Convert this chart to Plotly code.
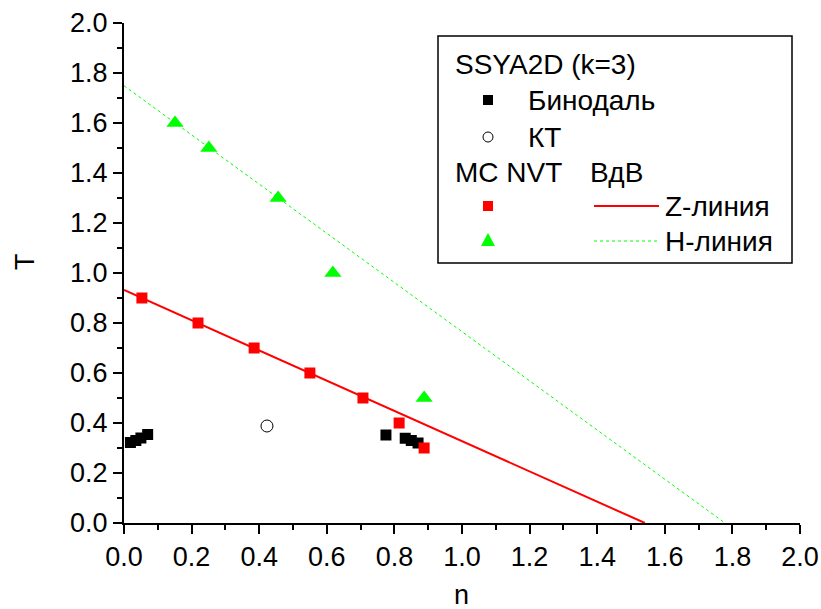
import plotly.graph_objects as go

# ---- data ----
binodal_n = [0.019, 0.035, 0.05, 0.07, 0.775, 0.832, 0.85, 0.87]
binodal_T = [0.322, 0.33, 0.34, 0.354, 0.352, 0.339, 0.33, 0.32]

kt_n = [0.423]
kt_T = [0.388]

mc_red_n = [0.053, 0.219, 0.385, 0.550, 0.707, 0.814, 0.888]
mc_red_T = [0.9, 0.8, 0.7, 0.6, 0.5, 0.4, 0.3]

mc_green_n = [0.151, 0.251, 0.456, 0.618, 0.888]
mc_green_T = [1.6, 1.5, 1.3, 1.0, 0.5]

z_line_n = [0.0, 1.541]
z_line_T = [0.932, 0.0]

h_line_n = [0.0, 1.778]
h_line_T = [1.749, 0.0]

x_ticks = [0.0, 0.2, 0.4, 0.6, 0.8, 1.0, 1.2, 1.4, 1.6, 1.8, 2.0]
y_ticks = [0.0, 0.2, 0.4, 0.6, 0.8, 1.0, 1.2, 1.4, 1.6, 1.8, 2.0]

# ---- figure geometry ----
W, H = 821, 609
L, R, T, B = 124, 21, 23, 86
PW, PH = W - L - R, H - T - B
FONT = "Liberation Sans, Arial, sans-serif"
FS = 27
LFS = 28


def px(x):
    return (x - L) / PW


def py(y):
    return (H - B - y) / PH


fig = go.Figure()

fig.add_trace(go.Scatter(x=h_line_n, y=h_line_T, mode="lines",
                         line=dict(color="#00ff00", width=1, dash="3px,3px"),
                         cliponaxis=False, showlegend=False))
fig.add_trace(go.Scatter(x=z_line_n, y=z_line_T, mode="lines",
                         line=dict(color="#ff0000", width=2),
                         cliponaxis=False, showlegend=False))
fig.add_trace(go.Scatter(x=binodal_n, y=binodal_T, mode="markers",
                         marker=dict(symbol="square", size=11, color="black", line=dict(width=0)),
                         cliponaxis=False, showlegend=False))
fig.add_trace(go.Scatter(x=kt_n, y=kt_T, mode="markers",
                         marker=dict(symbol="circle-open", size=12, color="black", line=dict(width=1)),
                         cliponaxis=False, showlegend=False))
fig.add_trace(go.Scatter(x=mc_red_n, y=mc_red_T, mode="markers",
                         marker=dict(symbol="square", size=11, color="#ff0000", line=dict(width=0)),
                         cliponaxis=False, showlegend=False))
fig.add_trace(go.Scatter(x=mc_green_n, y=mc_green_T, mode="markers",
                         marker=dict(symbol="triangle-up", size=15, color="#00ff00", line=dict(width=0)),
                         cliponaxis=False, showlegend=False))

axis_common = dict(
    showline=True, linewidth=2, linecolor="black", mirror=False,
    ticks="outside", ticklen=9, tickwidth=2, tickcolor="black",
    showgrid=False, zeroline=False, automargin=False,
    tickfont=dict(family=FONT, size=FS, color="black"),
    minor=dict(ticks="outside", ticklen=5, tickwidth=2, tickcolor="black", dtick=0.1),
    range=[0, 2], tickformat=".1f",
)
fig.update_xaxes(**axis_common, tickvals=x_ticks)
fig.update_yaxes(**axis_common, tickvals=y_ticks)

shapes = []
annotations = []

# legend frame
shapes.append(dict(type="rect", xref="paper", yref="paper",
                   x0=px(438), x1=px(792), y0=py(36), y1=py(263),
                   line=dict(color="black", width=1.5), fillcolor="white", layer="above"))


def text(x, y, s, anchor="left", size=LFS):
    annotations.append(dict(xref="paper", yref="paper", x=px(x), y=py(y), text=s,
                            showarrow=False, xanchor=anchor, yanchor="middle",
                            xshift=-2,
                            font=dict(family=FONT, size=size, color="black")))


text(455, 65, "SSYA2D (k=3)")
text(528, 100, "Бинодаль")
text(528, 137, "КТ")
text(455, 172, "MC NVT")
text(590, 172, "ВдВ")
text(665, 206, "Z-линия")
text(665, 241, "H-линия")

# legend samples
shapes.append(dict(type="rect", xref="paper", yref="paper", layer="above",
                   x0=px(483), x1=px(493), y0=py(95), y1=py(105),
                   fillcolor="black", line=dict(width=0)))
shapes.append(dict(type="circle", xref="paper", yref="paper", layer="above",
                   x0=px(483), x1=px(493), y0=py(132), y1=py(142),
                   fillcolor="white", line=dict(color="black", width=1)))
shapes.append(dict(type="rect", xref="paper", yref="paper", layer="above",
                   x0=px(483), x1=px(493), y0=py(201), y1=py(211),
                   fillcolor="#ff0000", line=dict(width=0)))
shapes.append(dict(type="path", xref="paper", yref="paper", layer="above",
                   path="M {} {} L {} {} L {} {} Z".format(px(481), py(246), px(495), py(246), px(488), py(233)),
                   fillcolor="#00ff00", line=dict(width=0)))
shapes.append(dict(type="line", xref="paper", yref="paper", layer="above",
                   x0=px(594), x1=px(659), y0=py(206), y1=py(206),
                   line=dict(color="#ff0000", width=2)))
shapes.append(dict(type="line", xref="paper", yref="paper", layer="above",
                   x0=px(594), x1=px(659), y0=py(241), y1=py(241),
                   line=dict(color="#00ff00", width=1, dash="3px,3px")))

# axis titles
annotations.append(dict(xref="paper", yref="paper", x=px(25), y=py(262), text="T",
                        showarrow=False, textangle=-90, xanchor="center", yanchor="middle",
                        font=dict(family=FONT, size=FS, color="black")))
annotations.append(dict(xref="paper", yref="paper", x=px(461), y=py(595), text="n",
                        showarrow=False, xanchor="center", yanchor="middle",
                        font=dict(family=FONT, size=FS, color="black")))

fig.update_layout(
    width=W, height=H,
    margin=dict(l=L, r=R, t=T, b=B),
    paper_bgcolor="white", plot_bgcolor="white",
    shapes=shapes, annotations=annotations,
    showlegend=False,
)

fig.write_html("out.html")
